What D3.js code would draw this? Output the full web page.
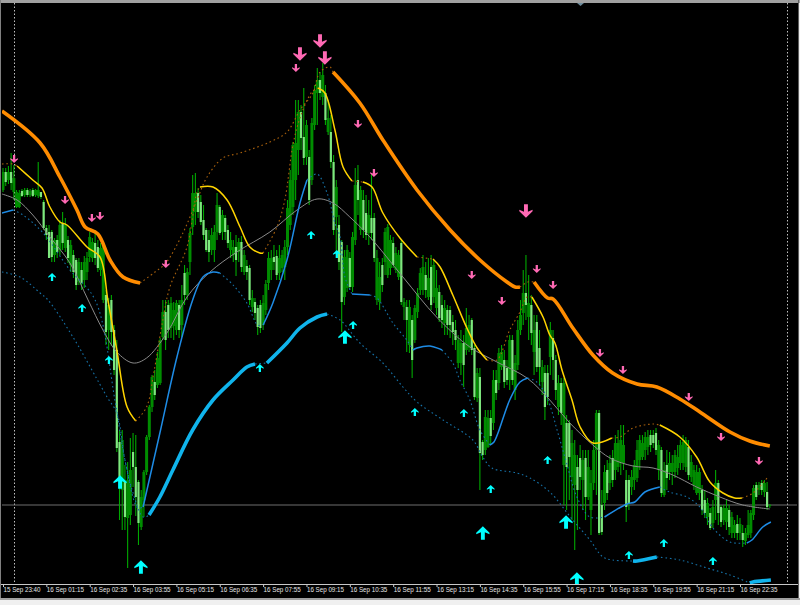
<!DOCTYPE html>
<html><head><meta charset="utf-8">
<style>html,body{margin:0;padding:0;background:#f0f0f0;overflow:hidden}svg{display:block}</style>
<script src="https://cdn.jsdelivr.net/npm/d3@7/dist/d3.min.js"></script></head><body><svg id="c" width="800" height="605"></svg>
<script>
const tickLabels=["15 Sep 23:40","16 Sep 01:15","16 Sep 02:35","16 Sep 03:55","16 Sep 05:15","16 Sep 06:35","16 Sep 07:55","16 Sep 09:15","16 Sep 10:35","16 Sep 11:55","16 Sep 13:15","16 Sep 14:35","16 Sep 15:55","16 Sep 17:15","16 Sep 18:35","16 Sep 19:55","16 Sep 21:15","16 Sep 22:35"];
const barsPerTick=16;
const opens=[
410,428,420,428,408,393,393,409,405,410,405,410,405,404,408,398,
372,368,368,345,360,350,377,352,360,335,345,340,318,330,320,328,
343,342,357,353,330,300,305,270,300,270,250,158,110,118,82,85,
148,133,118,73,100,128,163,193,218,215,217,263,288,295,272,274,
270,295,275,327,305,338,373,388,407,398,380,370,360,350,350,368,
393,368,382,370,350,345,353,348,358,328,334,332,293,298,292,295,
275,290,317,330,343,344,327,332,333,353,375,393,420,450,488,463,
443,443,420,475,507,520,503,507,468,468,438,383,375,358,303,312,
342,313,360,420,370,400,387,367,382,382,300,298,335,338,325,332,
357,330,323,357,293,293,255,280,260,288,310,310,325,303,333,303,
292,308,295,277,290,290,278,270,237,237,257,250,252,280,252,202,
223,158,150,153,182,177,220,217,233,240,232,220,260,210,235,270,
287,307,283,295,248,278,252,218,227,227,243,262,240,193,217,135,
177,177,123,115,133,142,120,142,103,90,117,150,187,95,97,130,
117,142,130,133,137,137,120,120,113,120,122,140,143,150,153,165,
165,167,130,150,105,135,128,128,128,132,137,137,133,153,123,115,
107,107,110,100,83,87,77,100,117,93,80,78,90,67,67,76,
67,67,59,65,67,85,115,110,117,108,108,94];
const closes=[
428,418,428,417,422,408,407,404,410,405,409,404,410,410,403,372,
365,342,343,360,348,375,357,375,342,355,328,315,338,317,338,342,
363,358,342,332,352,355,268,295,268,230,152,123,160,83,120,130,
133,103,77,103,128,163,193,223,205,242,260,288,260,270,297,290,
297,270,300,305,328,367,407,407,388,378,365,350,348,365,368,395,
367,385,368,357,360,353,340,358,333,345,328,300,302,287,273,272,
297,316,342,342,338,325,342,345,353,392,420,455,457,488,462,442,
475,400,477,510,520,507,525,480,482,438,370,413,338,298,343,350,
313,363,415,400,410,370,365,385,367,342,342,323,315,368,373,360,
335,347,345,298,298,280,293,240,292,307,327,333,310,322,295,335,
312,282,280,292,275,275,268,260,260,257,235,272,275,250,203,227,
147,145,183,182,164,220,207,247,248,218,220,260,220,237,270,285,
307,295,297,267,270,233,233,233,193,203,270,240,210,217,187,217,
133,143,157,145,110,123,140,103,133,117,150,187,67,68,128,107,
137,120,157,157,160,155,93,97,123,135,150,160,157,163,163,155,
157,150,155,107,130,122,137,137,145,143,155,158,160,125,138,130,
128,128,90,87,97,72,93,117,87,78,92,92,73,83,75,67,
76,60,67,75,87,112,103,115,110,117,93,95];
const highs=[
432,432,434,447,435,410,410,411,412,412,411,412,411,438,405,400,
375,375,370,362,365,380,388,382,364,360,350,342,342,338,344,348,
368,362,370,360,357,357,310,302,305,275,260,170,170,135,138,162,
167,165,120,110,130,165,195,225,230,248,262,300,300,300,303,298,
300,300,315,335,332,372,425,427,412,405,395,372,370,372,375,407,
395,390,385,375,368,360,365,362,364,350,340,335,310,302,295,300,
305,320,348,350,355,350,355,350,360,400,430,458,500,500,495,512,
480,450,482,515,532,528,537,515,500,485,445,420,385,360,350,355,
348,368,432,435,414,410,405,400,427,387,350,338,342,372,376,365,
363,353,350,360,302,300,300,285,295,312,332,345,338,342,345,340,
330,315,305,300,295,294,285,280,265,270,265,292,285,282,255,232,
232,160,190,190,190,230,230,252,255,250,240,265,265,245,280,300,
330,345,325,305,285,285,270,240,235,235,278,270,245,225,222,222,
185,180,170,160,145,155,150,150,150,130,160,190,190,110,135,140,
145,150,165,170,175,175,130,125,130,140,160,165,165,168,170,170,
170,172,160,153,138,150,148,145,150,155,160,165,163,160,145,135,
135,132,115,110,102,92,100,130,120,95,95,100,95,88,80,85,
82,75,72,90,90,115,118,118,120,120,118,96];
const lows=[
408,414,416,410,400,392,392,403,403,403,403,403,403,402,401,370,
360,342,338,338,342,345,350,348,337,328,322,310,315,310,312,320,
338,338,335,328,324,297,255,250,254,225,148,80,70,70,32,75,
113,84,55,70,83,125,160,188,200,212,215,260,250,262,262,260,
265,262,263,295,300,325,365,375,382,375,360,348,338,345,338,360,
365,360,360,352,342,338,324,338,328,325,320,295,288,280,265,267,
270,285,310,320,330,320,320,328,320,345,370,385,400,425,450,435,
435,395,415,470,475,500,495,475,465,432,365,345,330,268,295,308,
310,308,355,385,365,362,360,355,360,338,295,290,308,325,322,325,
332,327,320,295,280,248,247,222,257,282,305,305,302,300,290,297,
285,278,272,265,265,262,255,250,232,225,213,245,248,245,200,198,
110,140,145,152,155,170,200,210,230,212,215,210,215,200,230,265,
275,280,260,255,225,228,215,205,180,195,225,220,200,185,175,95,
90,100,80,50,70,110,90,80,100,65,110,105,65,65,90,100,
110,113,120,128,125,130,78,90,105,110,118,130,140,140,145,148,
152,145,120,103,103,110,120,115,122,125,130,130,128,120,118,110,
105,100,85,82,75,70,72,80,75,73,75,70,65,62,62,60,
60,53,55,62,62,80,100,105,105,103,90,92];

const upperBars=[-0.4,13.7,21,27.3,30.3,35,39.5,44.3,50.6,56.1,60.1,66.4,71.6,75.3,81.2,87.5,98.5,104.8,109.6,114.4,117,120.7,121.8,131.7,140.2,152.8,165,176,186,189,190.8,193.7,196,201,203,210.3,217.7,225,234,241.3,249.8,257.2,268.3,275.6,283];
const upperLevels=[489,457,423,390,373,366,340,323,317,328,337,367,400,423,442,447,458,468,490,507,528,533,528,497,460,410,370,340,318,313,313,318,318,302,301,272,245,227,216,213,201,188,168,159,154];
const upperSwitches=[50.6,121.8,190.8,196];
const midBars=[-0.4,3.7,5.2,11,14.4,17.3,21,23.6,31,35.8,38.7,42,45.8,49,53,55.7,59,61.6,67.9,71.6,72.7,77.5,82.7,87.5,91.1,94.8,96,101.1,104,107,109.6,114,116.3,118.8,122.5,125.5,128.8,132.8,136.2,140.2,146.5,152.8,158.7,161.3,166,171.2,175,178.6,182.3,187,190.8,193.4,195.2,199.3,201.8,203.7,206.3,210,213,217.7,224.7,227.7,232.5,239.9,242.4,249.8,256,260.9,265.7,270,272.7,276.8,282];
const midLevels=[436,436,434,420,412,393,378,375,353,343,300,250,193,179,193,228,280,313,353,408,413,413,400,373,353,347,347,373,400,455,482,508,512,507,470,433,419,418,413,387,362,343,341,333,305,272,252,240,240,270,288,303,303,283,265,257,230,200,173,157,162,163,172,176,175,163,143,118,107,102,102,107,122];
const midSwitches=[5.2,49,72.7,96,116.3,128.8,132.8,152.8,158.7,178.6,195.2,224.7,242.4,272.7];
const grayBars=[-0.4,5.2,11,17.3,24.7,31.4,36.9,42,48,53,60.5,67.9,76.4,86.3,98.5,108.5,115.9,121.8,128,135.4,147.6,160,172.3,182.3,193.4,201.8,209.2,217.7,224,232.5,239.9,247.2,256,264.6,273,283];
const grayLevels=[406,400,385,363,337,300,270,248,237,242,267,303,328,348,368,390,401,397,383,363,323,283,253,238,222,200,177,155,142,134,132,125,113,103,95,91];
const innerBars=[-0.4,3.7,7.4,14.8,24.7,34,41.3,45,49.8,51.7,57.9,64.2,70,73.8,77.5,80,84.9,90,94,96,99.6,104.8,109.6,112.2,115.9,119.6,122.5,124.4,126.2,128.8,135.4,138,143.9,149,151.3,152.8,157.6,162,166,168.6,172.3,176,179.7,181.2,187,190.8,193.7,197,200.7,204.8,208,211.8,216.6,222,230.3,233.2,236.9,242.4,246,252.4,257.2,262,268.3,274.5,276.4,280.4,283.4];
const innerLevels=[387,390,385,367,330,300,200,140,92,93,167,243,300,323,328,327,315,297,275,275,297,340,397,420,426,407,377,363,323,306,305,302,277,260,250,252,254,250,237,220,200,170,155,158,200,218,222,218,203,167,137,103,83,83,96,98,108,113,108,103,93,72,58,57,60,73,78];
const innerSwitches=[3.7,51.7,80,96,112.2,128.8,135.4,151.3,162,179.7,193.7,222,242.4,274.5];
const lowerBars=[-0.4,6.3,13.7,16.6,25.8,38.4,42,45,48,51.7,53.9,57.9,62.7,70,77.5,84.9,90,93,97.4,104.8,109.6,115.9,119.6,124.4,131.7,140.2,147.6,152.8,162.4,173.4,177.1,180.4,189.7,194.5,201.8,210.3,216.6,221.4,225,232.5,234,241.3,249.8,259.8,268.3,275.6,276.8,283.4];
const lowerLevels=[328,323,307,300,263,203,187,140,107,83,85,103,130,170,200,220,233,236,237,257,272,283,286,280,257,237,213,198,180,160,143,132,127,122,108,80,60,43,40,39,39,43,40,32,25,17,18,20];
const lowerSwitches=[53.9,93,97.4,119.6,232.5,241.3,275.6];

const bigDownBars=[109.6,117,118.8,193];
const bigDownLevels=[546,559,542,389];
const smallDownBars=[4.1,22.9,32.8,35.8,60.1,108.1,131,136.9,173,184.1,197,203,220.3,228.8,253.1,265,279];
const smallDownLevels=[441,400,382,384,336,532,476,427,325,299,331,315,247,230,203,163,139];
const bigUpBars=[43.2,50.9,126.2,177.1,207.8,211.8];
const bigUpLevels=[118,33,263,67,78,21];
const smallUpBars=[18.1,29.2,39.1,94.8,113.7,123.2,129.2,152,170.1,180,201,231,243.9,262];
const smallUpLevels=[323,292,240,232,365,346,275,188,187,111,140,45,57,39];
const referenceLevel=95;
const cursorBars=[4,289.3];

const W=800,H=605,plotTop=3,plotBottom=584;
const x=d3.scaleLinear().domain([0,barsPerTick*17]).range([3,740]);
const y=d3.scaleLinear().domain([0,600]).range([600,0]);
const svg=d3.select("#c");
svg.append("rect").attr("width",W).attr("height",H).attr("fill","#f0f0f0");
svg.append("rect").attr("x",0).attr("y",0).attr("width",W).attr("height",3).attr("fill","#a0a0a0");
svg.append("rect").attr("x",1).attr("y",plotTop).attr("width",W-3).attr("height",595).attr("fill","#000");
svg.append("rect").attr("x",0).attr("y",598).attr("width",W).attr("height",2).attr("fill","#a0a0a0");
svg.append("rect").attr("x",0).attr("y",0).attr("width",1).attr("height",598).attr("fill","#808080");
svg.append("rect").attr("x",798).attr("y",0).attr("width",1).attr("height",598).attr("fill","#606060");
svg.append("defs").append("clipPath").attr("id","plot").append("rect").attr("x",2).attr("y",plotTop).attr("width",795).attr("height",plotBottom-plotTop);
const g=svg.append("g").attr("clip-path","url(#plot)");

cursorBars.forEach(b=>g.append("line").attr("x1",Math.round(x(b))+.5).attr("x2",Math.round(x(b))+.5).attr("y1",plotTop).attr("y2",plotBottom).attr("stroke","#c0c0c0").attr("stroke-dasharray","1.5,2"));
g.append("line").attr("x1",2).attr("x2",797).attr("y1",y(referenceLevel)).attr("y2",y(referenceLevel)).attr("stroke","#6e6e6e").attr("stroke-width",1.2);

// candles: all wicks and rising bodies first, falling (light) bodies on top
const candles=opens.map((o,i)=>({i,o,c:closes[i],h:highs[i],l:lows[i]}));
g.selectAll("line.w").data(candles).join("line").attr("class","w").attr("x1",d=>x(d.i)).attr("x2",d=>x(d.i)).attr("y1",d=>y(d.h)).attr("y2",d=>y(d.l)).attr("stroke","#00a800").attr("stroke-width",1.1);
const body=(cls,rows,w,col)=>g.selectAll("rect."+cls).data(rows).join("rect").attr("class",cls).attr("x",d=>x(d.i)-w/2).attr("width",w)
  .attr("y",d=>y(Math.max(d.o,d.c))).attr("height",d=>Math.max(1,Math.abs(y(d.o)-y(d.c)))).attr("fill",col);
body("u",candles.filter(d=>d.c>d.o),3,"#008c00");
body("d",candles.filter(d=>d.c<=d.o),2.2,"#7ee87e");

// indicator lines, split where the state switches
const path=d3.line().x(d=>x(d[0])).y(d=>y(d[1])).curve(d3.curveCatmullRom.alpha(0.5));
function segments(bars,levels,switches,startActive){
  const pts=bars.map((b,i)=>[b,levels[i]]);const out=[];let cur=[pts[0]],act=startActive;
  for(let i=1;i<pts.length;i++){cur.push(pts[i]);
    if(switches.includes(pts[i][0])){out.push({act,pts:cur});cur=[pts[i]];act=!act;}}
  out.push({act,pts:cur});return out;}
function draw(bars,levels,switches,startActive,on,off){
  segments(bars,levels,switches,startActive).forEach(s=>{const st=s.act?on:off;
    g.append("path").attr("d",path(s.pts)).attr("fill","none").attr("stroke",st.c).attr("stroke-width",st.w)
     .attr("stroke-dasharray",st.d||null).attr("stroke-linejoin","round");});}
draw(grayBars,grayLevels,[],true,{c:"#8a8a8a",w:1},{});
draw(lowerBars,lowerLevels,lowerSwitches,false,{c:"#10b4ec",w:3.6},{c:"#1572a8",w:1.1,d:"1.6,2.8"});
draw(innerBars,innerLevels,innerSwitches,true,{c:"#1e8ce6",w:1.5},{c:"#1572a8",w:1.1,d:"1.6,2.8"});
draw(midBars,midLevels,midSwitches,false,{c:"#ffd400",w:1.5},{c:"#a8600c",w:1.1,d:"1.6,2.8"});
draw(upperBars,upperLevels,upperSwitches,true,{c:"#ff8c00",w:3.6},{c:"#a8600c",w:1.1,d:"1.6,2.8"});

// arrows
function arrow(s,dir){ // s = half-size; dir 1 = down, -1 = up
  const hw=s*1.02,sw=s*0.3,t=s*1.05;
  return d3.line()([[-sw,-t],[sw,-t],[sw,s*.12],[hw,-s*.18],[hw,s*.05],[0,t],[-hw,s*.05],[-hw,-s*.18],[-sw,s*.12]].map(p=>[p[0],p[1]*dir]))+"Z";}
function arrows(bars,levels,size,dir,col){
  g.selectAll(null).data(bars.map((b,i)=>[b,levels[i]])).join("path")
   .attr("d",arrow(size,dir)).attr("transform",d=>`translate(${x(d[0])},${y(d[1])})`).attr("fill",col);}
arrows(smallDownBars,smallDownLevels,3.8,1,"#ff69b4");
arrows(bigDownBars,bigDownLevels,6.5,1,"#ff69b4");
arrows(smallUpBars,smallUpLevels,3.8,-1,"#00ffff");
arrows(bigUpBars,bigUpLevels,6.5,-1,"#00ffff");

svg.append("path").attr("d",d3.line()([[577,3],[584,3],[580.5,6]])+"Z").attr("fill","#6d8b9c");

// time axis
const ax=d3.axisBottom(x).tickValues(tickLabels.map((_,i)=>i*barsPerTick)).tickFormat((_,i)=>tickLabels[i]).tickSize(0);
const axg=svg.append("g").attr("transform",`translate(0,${plotBottom})`).call(ax);
axg.select(".domain").remove();
svg.append("line").attr("x1",1).attr("x2",798).attr("y1",plotBottom+.5).attr("y2",plotBottom+.5).attr("stroke","#c8c8c8");
axg.selectAll(".tick line").attr("y1",0).attr("y2",3).attr("stroke","#c8c8c8");
axg.selectAll(".tick text").attr("x",0).attr("y",2.5).attr("dy","0.71em").attr("text-anchor","start")
  .attr("fill","#e6e6e6").attr("font-family","'Liberation Sans',sans-serif").attr("font-size","7.9px")
  .attr("textLength",37).attr("lengthAdjust","spacingAndGlyphs");
</script></body></html>
